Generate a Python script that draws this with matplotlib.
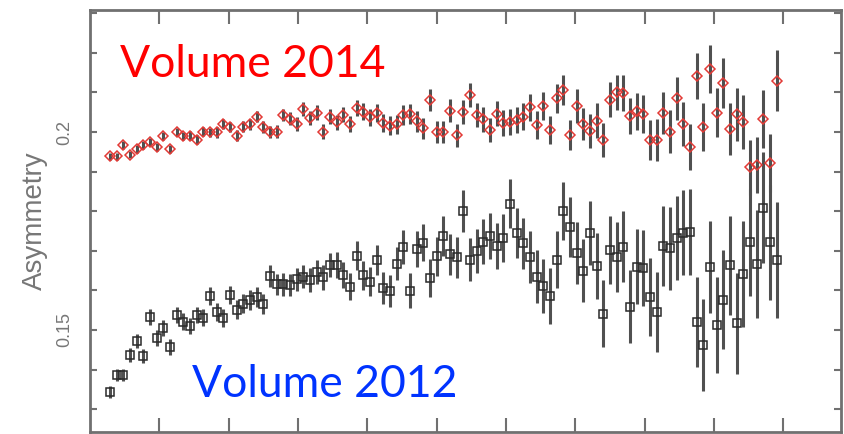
import matplotlib
matplotlib.use("Agg")
import matplotlib.pyplot as plt
import numpy as np

# asymmetry per bin
red_y = [0.1939, 0.1939, 0.1967, 0.1943, 0.1958, 0.1968, 0.1975, 0.1961, 0.1990, 0.1956,
         0.1999, 0.1990, 0.1991, 0.1981, 0.2001, 0.1999, 0.1999, 0.2021, 0.2013, 0.1991,
         0.2013, 0.2020, 0.2039, 0.2013, 0.2001, 0.2001, 0.2043, 0.2034, 0.2020, 0.2058,
         0.2035, 0.2049, 0.2001, 0.2039, 0.2025, 0.2043, 0.2021, 0.2060, 0.2051, 0.2037,
         0.2047, 0.2022, 0.2016, 0.2020, 0.2042, 0.2046, 0.2027, 0.2009, 0.2081, 0.2001,
         0.2001, 0.2054, 0.1992, 0.2051, 0.2093, 0.2043, 0.2032, 0.2005, 0.2046, 0.2023,
         0.2026, 0.2031, 0.2039, 0.2063, 0.2018, 0.2066, 0.2005, 0.2085, 0.2107, 0.1992,
         0.2066, 0.2020, 0.2003, 0.2029, 0.1980, 0.2082, 0.2100, 0.2098, 0.2040, 0.2052,
         0.2046, 0.1980, 0.1980, 0.2049, 0.2001, 0.2085, 0.2020, 0.1961, 0.2142, 0.2012,
         0.2159, 0.2049, 0.2123, 0.2008, 0.2045, 0.2026, 0.1911, 0.1917, 0.2032, 0.1922,
         0.2130]
red_err = [0.0009, 0.0009, 0.0010, 0.0009, 0.0010, 0.0010, 0.0010, 0.0010, 0.0011, 0.0010,
           0.0010, 0.0011, 0.0011, 0.0012, 0.0012, 0.0012, 0.0013, 0.0013, 0.0013, 0.0014,
           0.0014, 0.0014, 0.0015, 0.0015, 0.0015, 0.0016, 0.0016, 0.0016, 0.0017, 0.0017,
           0.0017, 0.0018, 0.0018, 0.0018, 0.0019, 0.0019, 0.0020, 0.0020, 0.0021, 0.0022,
           0.0023, 0.0023, 0.0024, 0.0024, 0.0025, 0.0025, 0.0026, 0.0027, 0.0028, 0.0028,
           0.0028, 0.0029, 0.0029, 0.0030, 0.0030, 0.0030, 0.0031, 0.0031, 0.0032, 0.0032,
           0.0033, 0.0033, 0.0034, 0.0034, 0.0035, 0.0035, 0.0036, 0.0036, 0.0038, 0.0038,
           0.0043, 0.0041, 0.0043, 0.0043, 0.0043, 0.0044, 0.0045, 0.0046, 0.0046, 0.0047,
           0.0048, 0.0050, 0.0052, 0.0053, 0.0055, 0.0055, 0.0056, 0.0058, 0.0058, 0.0060,
           0.0061, 0.0062, 0.0063, 0.0066, 0.0067, 0.0068, 0.0069, 0.0071, 0.0073, 0.0074,
           0.0076]

black_y = [0.1344, 0.1386, 0.1386, 0.1436, 0.1472, 0.1434, 0.1532, 0.1480, 0.1504, 0.1456,
           0.1538, 0.1521, 0.1510, 0.1538, 0.1531, 0.1586, 0.1546, 0.1530, 0.1588, 0.1551,
           0.1566, 0.1576, 0.1583, 0.1566, 0.1636, 0.1615, 0.1615, 0.1614, 0.1628, 0.1635,
           0.1626, 0.1646, 0.1633, 0.1664, 0.1664, 0.1639, 0.1609, 0.1688, 0.1638, 0.1622,
           0.1677, 0.1606, 0.1598, 0.1667, 0.1709, 0.1599, 0.1704, 0.1720, 0.1632, 0.1686,
           0.1737, 0.1691, 0.1684, 0.1801, 0.1678, 0.1699, 0.1723, 0.1738, 0.1712, 0.1732,
           0.1819, 0.1746, 0.1719, 0.1684, 0.1635, 0.1611, 0.1586, 0.1678, 0.1801, 0.1761,
           0.1695, 0.1650, 0.1746, 0.1662, 0.1541, 0.1702, 0.1684, 0.1710, 0.1559, 0.1660,
           0.1656, 0.1584, 0.1545, 0.1712, 0.1706, 0.1732, 0.1746, 0.1747, 0.1521, 0.1462,
           0.1660, 0.1513, 0.1577, 0.1663, 0.1517, 0.1641, 0.1721, 0.1667, 0.1809, 0.1721,
           0.1676]
black_err = [0.0015, 0.0015, 0.0016, 0.0018, 0.0018, 0.0018, 0.0020, 0.0020, 0.0020, 0.0020,
             0.0020, 0.0021, 0.0021, 0.0021, 0.0022, 0.0022, 0.0023, 0.0023, 0.0023, 0.0024,
             0.0024, 0.0025, 0.0026, 0.0026, 0.0027, 0.0027, 0.0028, 0.0028, 0.0029, 0.0029,
             0.0030, 0.0030, 0.0031, 0.0031, 0.0032, 0.0033, 0.0034, 0.0036, 0.0036, 0.0037,
             0.0038, 0.0040, 0.0041, 0.0042, 0.0043, 0.0044, 0.0046, 0.0047, 0.0048, 0.0049,
             0.0050, 0.0051, 0.0052, 0.0053, 0.0054, 0.0055, 0.0057, 0.0058, 0.0059, 0.0060,
             0.0062, 0.0063, 0.0064, 0.0065, 0.0066, 0.0068, 0.0070, 0.0072, 0.0073, 0.0076,
             0.0078, 0.0079, 0.0081, 0.0083, 0.0084, 0.0086, 0.0088, 0.0090, 0.0093, 0.0094,
             0.0096, 0.0099, 0.0101, 0.0101, 0.0104, 0.0106, 0.0108, 0.0109, 0.0114, 0.0116,
             0.0116, 0.0121, 0.0124, 0.0126, 0.0127, 0.0134, 0.0134, 0.0137, 0.0140, 0.0146,
             0.0146]

y_ticklabels = {0.15: "0.15", 0.2: "0.2"}

x = np.arange(len(red_y))

fig = plt.figure(figsize=(8.45, 4.34), dpi=100)
ax = fig.add_axes([90 / 845, 2 / 434, 751 / 845, 422 / 434])

bar_col = "#505050"
ax.errorbar(x, black_y, yerr=black_err, fmt="s", ms=5.5, mfc="none", mec="#2a2a2a",
            mew=1.1, ecolor=bar_col, elinewidth=2.2, capsize=0, zorder=2)
ax.errorbar(x, red_y, yerr=red_err, fmt="D", ms=5, mfc="none", mec="#e23a36",
            mew=1.1, ecolor=bar_col, elinewidth=2.2, capsize=0, zorder=3)

ax.set_xlim(-3.0, 109.65)
ax.set_ylim(0.12424, 0.23081)

ax.set_xticks([7.35, 17.8, 28.2, 38.6, 49.0, 59.4, 69.8, 80.2, 90.6, 101.0])
ax.set_yticks(np.arange(0.13, 0.231, 0.01))
ax.set_yticklabels([y_ticklabels.get(round(t, 2), "") for t in ax.get_yticks()],
                   rotation=90, va="center", family="Liberation Sans")
ax.tick_params(axis="x", direction="in", length=10, width=1.5, color="#707070",
               top=True, bottom=True, labelbottom=False)
ax.tick_params(axis="y", direction="in", length=5, width=1.5, color="#707070",
               left=True, right=True, labelsize=13, labelcolor="#777777", pad=12)
for s in ax.spines.values():
    s.set_color("#707070")
    s.set_linewidth(2)

ax.set_ylabel("Asymmetry", fontsize=20, color="#777777", labelpad=6,
              family="Liberation Sans")

fig.text(120 / 845, 1 - 77 / 434, "Volume 2014", color="#ff0000", fontsize=32,
         family=["Lato", "DejaVu Sans"], va="baseline", ha="left")
fig.text(192 / 845, 1 - 397 / 434, "Volume 2012", color="#0033ff", fontsize=32,
         family=["Lato", "DejaVu Sans"], va="baseline", ha="left")

fig.savefig("out.png", dpi=100)
plt.close(fig)
